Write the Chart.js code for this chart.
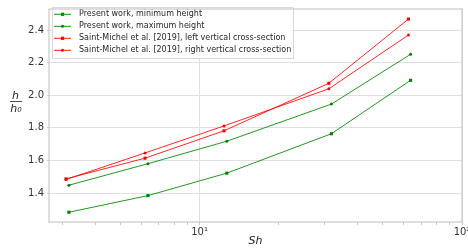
<!DOCTYPE html>
<html>
<head>
<meta charset="utf-8">
<script src="https://cdn.jsdelivr.net/npm/chart.js@4/dist/chart.umd.min.js"></script>
<style>
html,body{margin:0;padding:0;background:#fff;overflow:hidden;width:468px;height:249px;}
canvas{display:block;}
</style>
</head>
<body>
<canvas id="c" width="480" height="249"></canvas>
<script>
// Data
const shGreen = [3.18, 6.36, 12.7, 31.8, 63.7];
const shRed = [3.1, 6.2, 12.4, 31.1, 62.5];
const presentMin = [1.282, 1.384, 1.522, 1.764, 2.092];
const presentMax = [1.448, 1.580, 1.718, 1.946, 2.252];
const smLeft = [1.487, 1.614, 1.782, 2.074, 2.468];
const smRight = [1.483, 1.646, 1.812, 2.040, 2.370];
const seriesLabels = [
  'Present work, minimum height',
  'Present work, maximum height',
  'Saint-Michel et al. [2019], left vertical cross-section',
  'Saint-Michel et al. [2019], right vertical cross-section'
];
const xTickValues = [3,4,5,6,7,8,9,10,20,30,40,50,60,70,80,90,100];
const xMajorLabels = {10: '10\u00b9', 100: '10\u00b2'};
const yTickValues = [1.4, 1.6, 1.8, 2.0, 2.2, 2.4];

const GREEN = '#008000';
const RED = '#ff0000';
const FONT = "'DejaVu Sans', sans-serif";

function pts(xs, ys){ return xs.map((x,i)=>({x:x, y:ys[i]})); }

function ds(label, data, color, shape){
  return {
    label: label, data: data, showLine: true,
    borderColor: color, backgroundColor: color, borderWidth: 0.85,
    pointStyle: shape, pointRadius: shape==='rect' ? 2.2 : 1.5,
    pointBorderWidth: 0, pointHoverRadius: 2
  };
}

const LEG = { frameX: 52, frameY: 7, frameW: 241, frameH: 51, lineX0: 54, lineX1: 71, textX: 79, row0: 14.3, rowStep: 12, fontSize: 8 };

const frameAndLabels = {
  id: 'frameAndLabels',
  afterDatasetsDraw(chart){
    const ctx = chart.ctx;
    ctx.save();
    ctx.fillStyle = 'rgba(255,255,255,0.85)';
    ctx.strokeStyle = '#d8d8d8';
    ctx.lineWidth = 1;
    ctx.beginPath();
    ctx.rect(LEG.frameX+0.5, LEG.frameY+0.5, LEG.frameW, LEG.frameH);
    ctx.fill(); ctx.stroke();
    ctx.font = LEG.fontSize + "px " + FONT;
    ctx.textBaseline = 'middle';
    ctx.textAlign = 'left';
    chart.data.datasets.forEach((d, i) => {
      const y = LEG.row0 + LEG.rowStep * i;
      ctx.strokeStyle = d.borderColor;
      ctx.lineWidth = 0.9;
      ctx.beginPath(); ctx.moveTo(LEG.lineX0, y); ctx.lineTo(LEG.lineX1, y); ctx.stroke();
      ctx.fillStyle = d.borderColor;
      const cx = (LEG.lineX0 + LEG.lineX1) / 2;
      if (d.pointStyle === 'rect') ctx.fillRect(cx - 1.6, y - 1.6, 3.2, 3.2);
      else { ctx.beginPath(); ctx.arc(cx, y, 1.5, 0, Math.PI*2); ctx.fill(); }
      ctx.fillStyle = '#262626';
      ctx.fillText(d.label, LEG.textX, y);
    });
    ctx.restore();
  },
  afterDraw(chart){
    const ctx = chart.ctx, a = chart.chartArea;
    ctx.save();
    ctx.strokeStyle = '#c8c8c8';
    ctx.lineWidth = 1.2;
    ctx.strokeRect(a.left, a.top, a.right - a.left, a.bottom - a.top);
    // y axis label h / h0
    ctx.fillStyle = '#222';
    ctx.textAlign = 'center';
    ctx.textBaseline = 'alphabetic';
    ctx.font = "italic 11px " + FONT;
    ctx.fillText('h', 15.5, 99);
    ctx.fillText('h\u2080', 16, 112);
    ctx.strokeStyle = '#222';
    ctx.lineWidth = 0.8;
    ctx.beginPath(); ctx.moveTo(10, 101.5); ctx.lineTo(22, 101.5); ctx.stroke();
    ctx.restore();
  }
};

new Chart(document.getElementById('c'), {
  type: 'scatter',
  data: {
    datasets: [
      ds(seriesLabels[0], pts(shGreen, presentMin), GREEN, 'rect'),
      ds(seriesLabels[1], pts(shGreen, presentMax), GREEN, 'circle'),
      ds(seriesLabels[2], pts(shRed, smLeft), RED, 'rect'),
      ds(seriesLabels[3], pts(shRed, smRight), RED, 'circle')
    ]
  },
  options: {
    responsive: false,
    animation: false,
    layout: { padding: { left: 0, right: 18, top: 4, bottom: 0 } },
    scales: {
      x: {
        type: 'logarithmic',
        min: 2.67, max: 100,
        afterBuildTicks(axis){ axis.ticks = xTickValues.map(v=>({value:v, major: v===10||v===100})); },
        afterFit(scale){ scale.height = 27; },
        ticks: {
          autoSkip: false, maxRotation: 0, padding: 1,
          color: '#333', font: { family: FONT, size: 10 },
          callback(v){ return xMajorLabels[v] || ''; }
        },
        grid: {
          color(ctx){ const v = ctx.tick && ctx.tick.value; return (v===10||v===100) ? '#e0e0e0' : 'rgba(0,0,0,0)'; },
          tickColor: '#c8c8c8', tickLength: 3, drawTicks: true, lineWidth: 1
        },
        border: { display: false },
        title: {
          display: true, text: 'Sh', color: '#222',
          font: { family: FONT, size: 11, style: 'italic' },
          padding: { top: 0, bottom: 1 }
        }
      },
      y: {
        min: 1.222, max: 2.53,
        afterBuildTicks(axis){ axis.ticks = yTickValues.map(v=>({value:v})); },
        afterFit(scale){ scale.width = 49; },
        ticks: {
          color: '#333', font: { family: FONT, size: 10 }, padding: 3,
          callback(v){ return Number(v).toFixed(1); }
        },
        grid: { color: '#e0e0e0', tickColor: '#c8c8c8', tickLength: 2, lineWidth: 1 },
        border: { display: false }
      }
    },
    plugins: {
      legend: { display: false },
      tooltip: { enabled: false }
    }
  },
  plugins: [frameAndLabels]
});
</script>
</body>
</html>
